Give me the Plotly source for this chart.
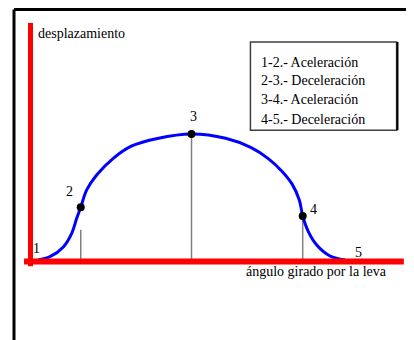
import plotly.graph_objects as go

# cam displacement curve, angle (deg) vs displacement
angulo = [0, 14, 30, 39.5, 45.4, 50.1, 57.1, 68.8, 88.3, 110, 140, 180,
          220, 250, 270, 286, 298, 306.4, 310.4, 317, 326.8, 342.4, 360]
desplaz = [0, 0.26, 1.06, 2.12, 3.31, 4.18, 5.56, 6.75, 8.07, 9.05, 9.65, 10,
           9.66, 8.92, 8.05, 7.05, 6.02, 4.76, 3.49, 2.25, 1.19, 0.32, 0]

# marked points 2, 3, 4 and the thin reference lines under them
pto_ang = [50.1, 180, 310.4]
pto_desp = [4.18, 10, 3.49]
ref_top = [2.4, 10, 3.49]

# point numbers
num_txt = ['1', '2', '3', '4', '5']
num_ang = [-1.5, 36.4, 182, 322.8, 375.6]
num_desp = [0.93, 5.4, 11.37, 3.97, 0.58]

fases = ['1-2.- Aceleración', '2-3.- Deceleración',
         '3-4.- Aceleración', '4-5.- Deceleración']
fase_desp = [15.71, 14.21, 12.70, 11.19]

serif = 'Liberation Serif'

fig = go.Figure()

# thin gray verticals
for a, t in zip(pto_ang, ref_top):
    fig.add_trace(go.Scatter(x=[a, a], y=[0, t], mode='lines',
                             line=dict(color='#808080', width=1.5),
                             hoverinfo='skip', showlegend=False))

fig.add_trace(go.Scatter(x=angulo, y=desplaz, mode='lines',
                         line=dict(color='#0000ff', width=3, shape='spline', smoothing=1),
                         showlegend=False))

fig.add_trace(go.Scatter(x=pto_ang, y=pto_desp, mode='markers',
                         marker=dict(color='black', size=8),
                         showlegend=False))

W, H = 406, 332
shapes = [
    # red axes
    dict(type='line', xref='x', yref='y', x0=-8.8, x1=-8.8, y0=-0.5, y1=18.8,
         line=dict(color='#ff0000', width=5)),
    dict(type='line', xref='x', yref='y', x0=-16.4, x1=429, y0=-0.12, y1=-0.12,
         line=dict(color='#ff0000', width=6)),
    # legend box
    dict(type='rect', xref='x', yref='y', x0=249.1, x1=420.5, y0=10.3, y1=17.3,
         line=dict(color='#404040', width=1.5)),
    dict(type='line', xref='x', yref='y', x0=421.5, x1=421.5, y0=10.3, y1=17.3,
         line=dict(color='black', width=2)),
    # outer frame (top and left)
    dict(type='line', xref='paper', yref='paper', x0=6 / W, x1=1,
         y0=1 - 1.5 / H, y1=1 - 1.5 / H, line=dict(color='black', width=3)),
    dict(type='line', xref='paper', yref='paper', x0=6 / W, x1=6 / W,
         y0=0, y1=1 - 1.5 / H, line=dict(color='black', width=3)),
]

annots = []
for t, a, d in zip(num_txt, num_ang, num_desp):
    annots.append(dict(x=a, y=d, text=t, showarrow=False,
                       font=dict(family=serif, size=14, color='black')))
for t, d in zip(fases, fase_desp):
    annots.append(dict(x=259, y=d, text=t, showarrow=False, xanchor='left',
                       font=dict(family=serif, size=14, color='black')))
annots.append(dict(x=-2.3, y=18.0, text='desplazamiento', showarrow=False,
                   xanchor='left', font=dict(family=serif, size=14, color='black')))
annots.append(dict(x=326, y=-0.95, text='ángulo girado por la leva', showarrow=False,
                   font=dict(family=serif, size=14, color='black')))

fig.update_layout(
    width=W, height=H,
    margin=dict(l=0, r=0, t=0, b=0),
    paper_bgcolor='white', plot_bgcolor='white',
    xaxis=dict(range=[-35.18, 440.9], visible=False, fixedrange=True),
    yaxis=dict(range=[-6.35, 20.0], visible=False, fixedrange=True),
    shapes=shapes, annotations=annots,
)

fig.write_html('out.html')
